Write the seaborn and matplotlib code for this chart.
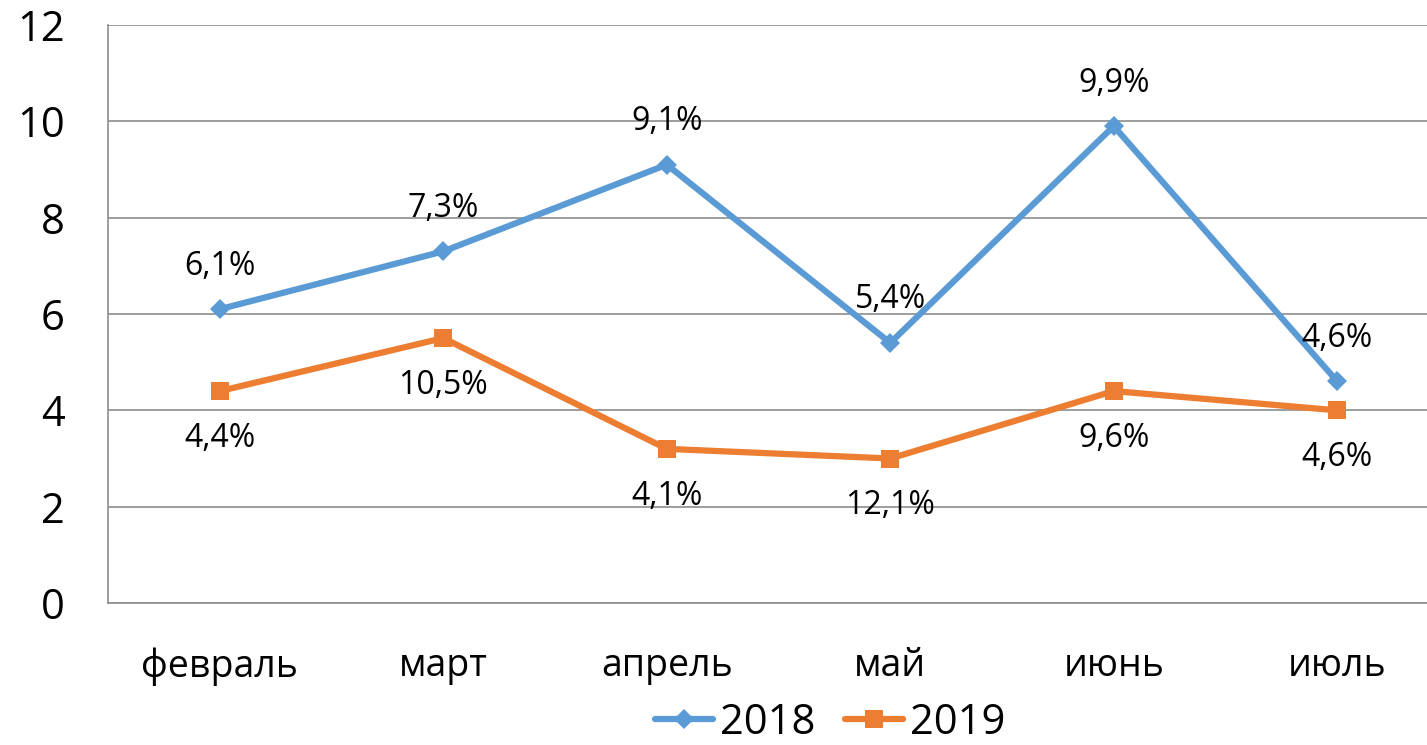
import numpy as np
import pandas as pd
import matplotlib
matplotlib.use("Agg")
import matplotlib.pyplot as plt
import seaborn as sns
from matplotlib.ticker import FixedLocator

months = ["февраль", "март", "апрель", "май", "июнь", "июль"]
vals_2018 = [6.1, 7.3, 9.1, 5.4, 9.9, 4.6]
vals_2019 = [4.4, 5.5, 3.2, 3.0, 4.4, 4.0]
labels_2018 = ["6,1%", "7,3%", "9,1%", "5,4%", "9,9%", "4,6%"]
labels_2019 = ["4,4%", "10,5%", "4,1%", "12,1%", "9,6%", "4,6%"]

sns.set_style("white")
plt.rcParams['font.family'] = ['Open Sans', 'DejaVu Sans']
plt.rcParams['text.color'] = 'black'

df = pd.DataFrame({
    "month": months * 2,
    "x": list(range(len(months))) * 2,
    "value": vals_2018 + vals_2019,
    "year": ["2018"] * 6 + ["2019"] * 6,
})

colors = {"2018": "#5B9BD5", "2019": "#ED7D31"}
grid_c = "#8c8c8c"

fig = plt.figure(figsize=(14.27, 7.45), dpi=100)
ax = fig.add_axes([108 / 1427, 142 / 745, 1341 / 1427, 578 / 745])

sns.lineplot(data=df, x="x", y="value", hue="year", style="year",
             palette=colors, markers={"2018": "D", "2019": "s"},
             dashes=False, linewidth=4.5, markersize=13,
             markeredgewidth=0, ax=ax, legend=True)

# diamonds are a bit smaller than the squares
for line in ax.get_lines():
    if line.get_marker() == "D":
        line.set_markersize(10)

for i in range(len(months)):
    ax.annotate(labels_2018[i], (i, vals_2018[i]), xytext=(0, 31),
                textcoords="offset points", ha="center", va="center",
                fontsize=23, color="black")
    ax.annotate(labels_2019[i], (i, vals_2019[i]), xytext=(0, -34),
                textcoords="offset points", ha="center", va="center",
                fontsize=23, color="black")

ax.set_xlim(-0.5, 5.5)
ax.set_ylim(0, 12)
ax.set_yticks(np.arange(0, 13, 2))
ax.set_yticklabels([str(v) for v in range(0, 13, 2)], fontsize=30)
ax.set_xticks(range(len(months)))
ax.set_xticklabels(months, fontsize=27)
ax.xaxis.set_minor_locator(FixedLocator(np.arange(-0.5, 6, 1)))
ax.tick_params(axis="x", which="major", length=0, pad=32, labelcolor="black")
ax.tick_params(axis="x", which="minor", length=11.5, width=1.2, color=grid_c, direction="out")
ax.tick_params(axis="y", length=11, width=1.2, color=grid_c, direction="out", pad=20,
               labelcolor="black")
ax.yaxis.grid(True, color=grid_c, linewidth=1.2)
ax.set_axisbelow(True)
ax.set_xlabel("")
ax.set_ylabel("")
for s in ["top", "right"]:
    ax.spines[s].set_visible(False)
for s in ["left", "bottom"]:
    ax.spines[s].set_color(grid_c)
    ax.spines[s].set_linewidth(1.2)

handles, lbls = ax.get_legend_handles_labels()
ax.get_legend().remove()
for h in handles:
    h.set_linewidth(4.5)
fig.legend(handles, lbls, loc="center", bbox_to_anchor=(830 / 1427, 1 - 723 / 745),
           ncol=2, frameon=False, fontsize=30, handlelength=1.4,
           handletextpad=0.17, columnspacing=0.7, borderpad=0,
           labelcolor="black")

fig.savefig("out.png", dpi=100)
